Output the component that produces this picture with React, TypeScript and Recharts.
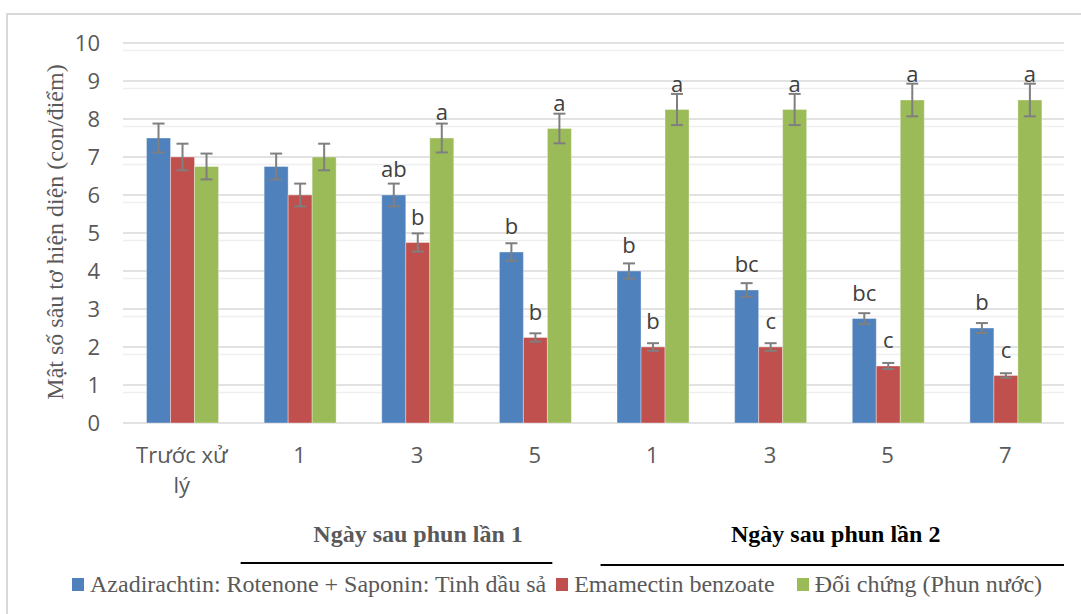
import React from 'react';
import {
  Bar,
  BarChart,
  CartesianGrid,
  ErrorBar,
  LabelList,
  Legend,
  XAxis,
  YAxis,
} from 'recharts';

const categories = ['Trước xử lý', '1', '3', '5', '1', '3', '5', '7'];

const azadiValues = [7.5, 6.75, 6.0, 4.5, 4.0, 3.5, 2.75, 2.5];
const emaValues = [7.0, 6.0, 4.75, 2.25, 2.0, 2.0, 1.5, 1.25];
const controlValues = [6.75, 7.0, 7.5, 7.75, 8.25, 8.25, 8.5, 8.5];

const azadiErrors = [0.38, 0.34, 0.3, 0.23, 0.2, 0.18, 0.14, 0.13];
const emaErrors = [0.35, 0.3, 0.24, 0.11, 0.1, 0.1, 0.08, 0.06];
const controlErrors = [0.34, 0.35, 0.38, 0.39, 0.41, 0.41, 0.43, 0.43];

const azadiLetters = ['', '', 'ab', 'b', 'b', 'bc', 'bc', 'b'];
const emaLetters = ['', '', 'b', 'b', 'b', 'c', 'c', 'c'];
const controlLetters = ['', '', 'a', 'a', 'a', 'a', 'a', 'a'];

const yTicks = [0, 1, 2, 3, 4, 5, 6, 7, 8, 9, 10];

const groups = [
  { label: 'Ngày sau phun lần 1', from: 1, to: 3, color: '#595959', shift: 1, lineFrom: -0.5, lineTo: 0.15, lineY: 140 },
  { label: 'Ngày sau phun lần 2', from: 4, to: 7, color: '#000000', shift: 7, lineFrom: -0.44, lineTo: 0.5, lineY: 142 },
];

const series = [
  { key: 'azadi', name: 'Azadirachtin: Rotenone + Saponin: Tinh dầu sả', color: '#4f81bd' },
  { key: 'ema', name: 'Emamectin benzoate', color: '#c0504d' },
  { key: 'control', name: 'Đối chứng (Phun nước)', color: '#9bbb59' },
];

const data = categories.map((label, i) => ({
  label,
  azadi: azadiValues[i],
  ema: emaValues[i],
  control: controlValues[i],
  azadiErr: azadiErrors[i],
  emaErr: emaErrors[i],
  controlErr: controlErrors[i],
  azadiSig: azadiLetters[i],
  emaSig: emaLetters[i],
  controlSig: controlLetters[i],
}));

// minor gridlines every 0.2 between the integer ticks
const minorTicks = Array.from({ length: 50 }, (_, i) => Number((i * 0.2).toFixed(1))).filter(
  (v) => v % 1 !== 0
);

const WIDTH = 1081;
const HEIGHT = 614;
const MARGIN = { top: 43, right: 17, bottom: 0, left: 0 };
const Y_AXIS_W = 123;
const BAND = (WIDTH - MARGIN.left - MARGIN.right - Y_AXIS_W) / categories.length;

const sans = '"Open Sans", sans-serif';
const serif = '"Liberation Serif", "Times New Roman", serif';

const wrapWords = (text: string, maxChars: number) => {
  const lines: string[] = [];
  let cur = '';
  text.split(' ').forEach((w) => {
    const next = cur ? `${cur} ${w}` : w;
    if (next.length > maxChars && cur) {
      lines.push(cur);
      cur = w;
    } else {
      cur = next;
    }
  });
  if (cur) lines.push(cur);
  return lines;
};

const YTick = (props: any) => {
  const { x, y, payload } = props;
  return (
    <text x={x - 23} y={y + 8} textAnchor="end" fill="#595959" fontSize={22} fontFamily={sans}>
      {payload.value}
    </text>
  );
};

const XTick = (props: any) => {
  const { x, y, payload, index } = props;
  const lines = wrapWords(String(payload.value), 8);
  const group = groups.find((g) => g.from === index);
  return (
    <g>
      <text x={x} y={y + 40} textAnchor="middle" fill="#595959" fontSize={22} fontFamily={sans}>
        {lines.map((line, i) => (
          <tspan key={i} x={x} dy={i === 0 ? 0 : 30}>
            {line}
          </tspan>
        ))}
      </text>
      {group && (
        <g>
          <text
            x={x + ((group.to - group.from) * BAND) / 2 + group.shift}
            y={y + 119}
            textAnchor="middle"
            fill={group.color}
            fontSize={24}
            fontWeight="bold"
            fontFamily={serif}
          >
            {group.label}
          </text>
          <line
            x1={x + group.lineFrom * BAND}
            x2={x + (group.to - group.from) * BAND + group.lineTo * BAND}
            y1={y + group.lineY}
            y2={y + group.lineY}
            stroke="#000"
            strokeWidth={2}
          />
        </g>
      )}
    </g>
  );
};

const SigLabel = (props: any) => {
  const { x, y, width, value } = props;
  if (!value) return null;
  return (
    <text
      x={Number(x) + Number(width) / 2}
      y={Number(y) - 18}
      textAnchor="middle"
      fill="#404040"
      fontSize={22}
      fontFamily={sans}
    >
      {value}
    </text>
  );
};

const YTitle = () => (
  <text
    x={63}
    y={232}
    transform="rotate(-90, 63, 232)"
    textAnchor="middle"
    fill="#595959"
    fontSize={24}
    fontFamily={serif}
  >
    Mật số sâu tơ hiện diện (con/điểm)
  </text>
);

const LegendContent = () => (
  <div
    style={{
      display: 'flex',
      alignItems: 'center',
      height: 30,
      lineHeight: '30px',
      fontFamily: serif,
      fontSize: 24,
      color: '#595959',
      whiteSpace: 'nowrap',
    }}
  >
    {series.map((s, i) => (
      <div key={s.key} style={{ display: 'flex', alignItems: 'center', marginRight: i === 0 ? 10 : 22 }}>
        <span style={{ width: 12, height: 13, background: s.color, marginRight: 6, display: 'inline-block' }} />
        <span>{s.name}</span>
      </div>
    ))}
  </div>
);

export default function App() {
  return (
    <div
      style={{
        position: 'fixed',
        left: 0,
        top: 0,
        width: WIDTH,
        height: HEIGHT,
        overflow: 'hidden',
        background: '#fff',
      }}
    >
      <div
        style={{
          position: 'absolute',
          left: 6,
          top: 13,
          width: WIDTH + 20,
          height: HEIGHT + 20,
          border: '2px solid #d9d9d9',
        }}
      />
      <BarChart
        width={WIDTH}
        height={HEIGHT}
        data={data}
        margin={MARGIN}
        barCategoryGap="20%"
        barGap={0}
      >
        <CartesianGrid vertical={false} horizontalValues={minorTicks} stroke="#efefef" strokeWidth={1.5} />
        <CartesianGrid vertical={false} horizontalValues={yTicks} stroke="#d9d9d9" strokeWidth={1.5} />
        <XAxis
          dataKey="label"
          interval={0}
          axisLine={false}
          tickLine={false}
          tickSize={0}
          tickMargin={0}
          height={161}
          tick={<XTick />}
        />
        <YAxis
          domain={[0, 10]}
          ticks={yTicks}
          width={Y_AXIS_W}
          axisLine={false}
          tickLine={false}
          tickSize={0}
          tickMargin={0}
          tick={<YTick />}
          label={{ content: () => <YTitle /> }}
        />
        <Legend
          verticalAlign="bottom"
          height={30}
          wrapperStyle={{ left: 72, top: 569, width: 1000, height: 30 }}
          content={() => <LegendContent />}
        />
        {series.map((s) => (
          <Bar
            key={s.key}
            dataKey={s.key}
            name={s.name}
            fill={s.color}
            stroke="#ffffff"
            strokeOpacity={0.35}
            strokeWidth={1}
            isAnimationActive={false}
          >
            <ErrorBar dataKey={`${s.key}Err`} width={6} strokeWidth={2} stroke="#7f7f7f" />
            <LabelList dataKey={`${s.key}Sig`} content={<SigLabel />} />
          </Bar>
        ))}
      </BarChart>
    </div>
  );
}
